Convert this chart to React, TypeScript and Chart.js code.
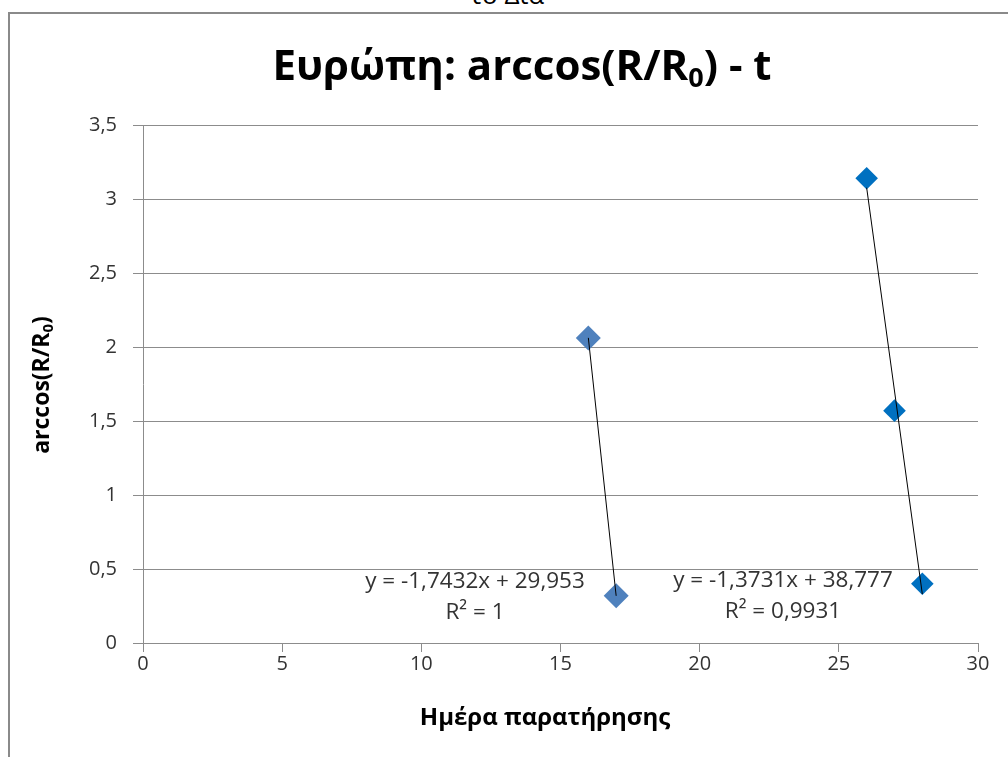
import React, { useEffect, useRef } from "react";
import { Chart, registerables } from "chart.js";

Chart.register(...registerables);

// Data
const series1X = [16, 17];
const series1Y = [2.06, 0.32];
const series2X = [26, 27, 28];
const series2Y = [3.14, 1.57, 0.4];
const trendSlopes = [-1.7432, -1.3731];
const trendIntercepts = [29.953, 38.777];
const trendEquations = ["y = -1,7432x + 29,953", "y = -1,3731x + 38,777"];
const trendR2 = ["R² = 1", "R² = 0,9931"];
const yTicks = [0, 0.5, 1, 1.5, 2, 2.5, 3, 3.5];
const xTicks = [0, 5, 10, 15, 20, 25, 30];

const FONT = "'Open Sans', 'Noto Sans', sans-serif";

function trendPoints(xs: number[], i: number) {
  const x0 = Math.min(...xs);
  const x1 = Math.max(...xs);
  return [
    { x: x0, y: trendSlopes[i] * x0 + trendIntercepts[i] },
    { x: x1, y: trendSlopes[i] * x1 + trendIntercepts[i] },
  ];
}

type Seg = { t: string; sub?: boolean };

function drawSegs(ctx: CanvasRenderingContext2D, segs: Seg[], cx: number, cy: number, size: number, bold: boolean) {
  const main = `${bold ? "bold " : ""}${size}px ${FONT}`;
  const subF = `${bold ? "bold " : ""}${Math.round(size * 0.65)}px ${FONT}`;
  let total = 0;
  const widths = segs.map((s) => {
    ctx.font = s.sub ? subF : main;
    const w = ctx.measureText(s.t).width;
    total += w;
    return w;
  });
  let x = cx - total / 2;
  ctx.textBaseline = "middle";
  ctx.textAlign = "left";
  segs.forEach((s, i) => {
    ctx.font = s.sub ? subF : main;
    ctx.fillText(s.t, x, s.sub ? cy + size * 0.28 : cy);
    x += widths[i];
  });
}

const textPlugin = {
  id: "textPlugin",
  afterDraw(chart: any) {
    const ctx: CanvasRenderingContext2D = chart.ctx;
    ctx.save();
    ctx.fillStyle = "#000000";
    // Title
    drawSegs(
      ctx,
      [{ t: "Ευρώπη: arccos(R/R" }, { t: "0", sub: true }, { t: ") - t" }],
      512,
      54,
      42,
      true
    );
    // X title
    drawSegs(ctx, [{ t: "Ημέρα παρατήρησης" }], 535, 704, 24, true);
    // Y title
    ctx.save();
    ctx.translate(32, 371);
    ctx.rotate(-Math.PI / 2);
    drawSegs(ctx, [{ t: "arccos(R/R" }, { t: "0", sub: true }, { t: ")" }], 0, 0, 23, true);
    ctx.restore();
    // Trendline labels
    ctx.fillStyle = "#333333";
    const labelPos = [
      { x: 465, y: 568 },
      { x: 773, y: 567 },
    ];
    labelPos.forEach((p, i) => {
      drawSegs(ctx, [{ t: trendEquations[i] }], p.x, p.y, 22.5, false);
      drawSegs(ctx, [{ t: trendR2[i] }], p.x, p.y + 31, 22.5, false);
    });
    ctx.restore();
  },
};

export default function App() {
  const ref = useRef<HTMLCanvasElement>(null);
  useEffect(() => {
    if (!ref.current) return;
    const chart = new Chart(ref.current, {
      type: "scatter",
      data: {
        datasets: [
          {
            label: "Trend 1",
            data: trendPoints(series1X, 0),
            showLine: true,
            borderColor: "#000000",
            borderWidth: 1,
            pointRadius: 0,
            order: 0,
          } as any,
          {
            label: "Trend 2",
            data: trendPoints(series2X, 1),
            showLine: true,
            borderColor: "#000000",
            borderWidth: 1,
            pointRadius: 0,
            order: 0,
          },
          {
            label: "Series 1",
            data: series1X.map((x, i) => ({ x, y: series1Y[i] })),
            pointStyle: "rectRot",
            pointRadius: 12.5,
            backgroundColor: "#4F81BD",
            borderColor: "#4F81BD",
            borderWidth: 0,
            order: 1,
          },
          {
            label: "Series 2",
            data: series2X.map((x, i) => ({ x, y: series2Y[i] })),
            pointStyle: "rectRot",
            pointRadius: 11.3,
            backgroundColor: "#0070C0",
            borderColor: "#0070C0",
            borderWidth: 0,
            order: 1,
          },
        ],
      },
      options: {
        animation: false,
        responsive: false,
        maintainAspectRatio: false,
        layout: { padding: { left: 0, top: 111, right: 30, bottom: 0 } },
        plugins: { legend: { display: false }, tooltip: { enabled: false }, title: { display: false } },
        scales: {
          x: {
            type: "linear",
            min: 0,
            max: 30,
            afterFit: (s: any) => {
              s.height = 114;
            },
            afterBuildTicks: (s: any) => {
              s.ticks = xTicks.map((v) => ({ value: v }));
            },
            ticks: {
              color: "#333333",
              font: { family: FONT, size: 20 },
              padding: 0,
              maxRotation: 0,
            },
            grid: { drawOnChartArea: false, drawTicks: true, tickLength: 9, color: "#8c8c8c" },
            border: { color: "#8c8c8c" },
          },
          y: {
            type: "linear",
            min: 0,
            max: 3.5,
            afterFit: (s: any) => {
              s.width = 133;
            },
            afterBuildTicks: (s: any) => {
              s.ticks = yTicks.map((v) => ({ value: v }));
            },
            ticks: {
              color: "#333333",
              font: { family: FONT, size: 20 },
              padding: 16,
              callback: (v: any) => String(v).replace(".", ","),
            },
            grid: { color: "#8c8c8c", drawTicks: true, tickLength: 10 },
            border: { color: "#8c8c8c" },
          },
        },
      },
      plugins: [textPlugin],
    });
    return () => chart.destroy();
  }, []);

  return (
    <div style={{ position: "fixed", left: 0, top: 0, width: 1008, height: 757, overflow: "hidden", background: "#fff" }}>
      <div
        style={{
          position: "absolute",
          left: 0,
          width: 1014,
          top: -24,
          textAlign: "center",
          fontFamily: FONT,
          fontSize: 26,
          color: "#000",
        }}
      >
        το Δία
      </div>
      <div
        style={{
          position: "absolute",
          left: 8,
          top: 12,
          width: 1100,
          height: 800,
          borderLeft: "2px solid #8a8a8a",
          borderTop: "2px solid #8a8a8a",
        }}
      />
      <canvas ref={ref} width={998} height={743} style={{ position: "absolute", left: 10, top: 14, width: 998, height: 743 }} />
    </div>
  );
}
